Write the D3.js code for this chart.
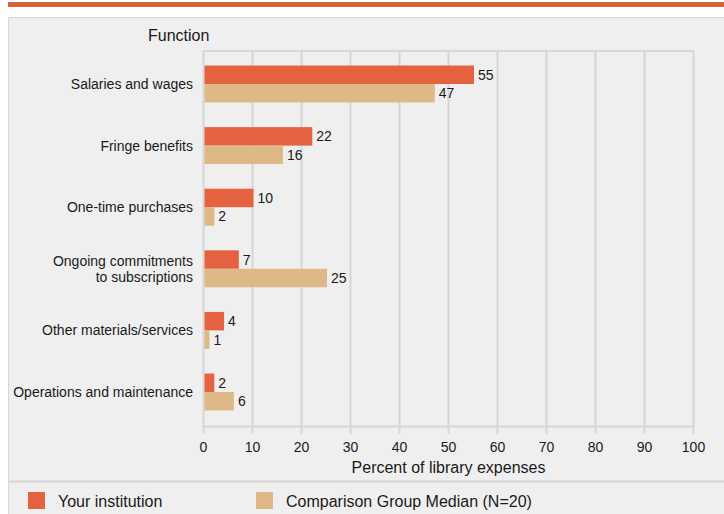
<!DOCTYPE html>
<meta charset="utf-8">
<title>Library expenses</title>
<script src="https://d3js.org/d3.v7.min.js"></script>
<style>
  body { margin: 0; background: #fff; }
  text { font-family: "Liberation Sans", Arial, sans-serif; fill: #1a1a1a; }
</style>
<body>
</body>
<script>
var categories = ["Salaries and wages", "Fringe benefits", "One-time purchases",
                  "Ongoing commitments|to subscriptions", "Other materials/services",
                  "Operations and maintenance"];
var yourInstitution = [55, 22, 10, 7, 4, 2];
var comparisonMedian = [47, 16, 2, 25, 1, 6];
var xTicks = [0, 10, 20, 30, 40, 50, 60, 70, 80, 90, 100];
var seriesNames = ["Your institution", "Comparison Group Median (N=20)"];
var seriesColors = ["#e4623f", "#dfb887"];

var width = 724, height = 514;
var svg = d3.select("body").append("svg")
            .attr("width", width)
            .attr("height", height);

// top stripe and panel
svg.append("rect").attr("x", 8).attr("y", 2).attr("width", width - 8).attr("height", 5)
   .attr("fill", "#d9603b");
svg.append("rect").attr("x", 8.5).attr("y", 17.5).attr("width", width).attr("height", height)
   .attr("fill", "#efefef").attr("stroke", "#d6d6d6");
svg.append("line").attr("x1", 8).attr("x2", width).attr("y1", 481.5).attr("y2", 481.5)
   .attr("stroke", "#d6d6d6").attr("stroke-width", 2);

var x = d3.scaleLinear().domain([0, 100]).range([203.5, 693.5]);
var y = d3.scaleBand().domain(d3.range(categories.length))
          .range([53.2, 422.8]).paddingInner(0.4).paddingOuter(0.2);

// grid frame
var grid = svg.append("g");
grid.selectAll("line.v").data(xTicks).enter().append("line")
    .attr("x1", function (d) { return x(d); })
    .attr("x2", function (d) { return x(d); })
    .attr("y1", 51).attr("y2", 434)
    .attr("stroke", "#d6d6d6").attr("stroke-width", 2);
grid.append("line").attr("x1", x(0)).attr("x2", x(100)).attr("y1", 51).attr("y2", 51)
    .attr("stroke", "#d6d6d6").attr("stroke-width", 2);
grid.append("line").attr("x1", x(0)).attr("x2", x(100)).attr("y1", 426.5).attr("y2", 426.5)
    .attr("stroke", "#d6d6d6").attr("stroke-width", 2);

// x axis labels
svg.selectAll("text.tick").data(xTicks).enter().append("text")
   .attr("x", function (d) { return x(d); })
   .attr("y", 452)
   .attr("text-anchor", "middle")
   .style("font-size", "14px")
   .text(function (d) { return d; });
svg.append("text").attr("x", x(50)).attr("y", 473).attr("text-anchor", "middle")
   .style("font-size", "16px").text("Percent of library expenses");

svg.append("text").attr("x", 148).attr("y", 41).style("font-size", "16px").text("Function");

// bars
var half = y.bandwidth() / 2;
var series = [yourInstitution, comparisonMedian];
series.forEach(function (vals, s) {
  var g = svg.append("g");
  g.selectAll("rect").data(vals).enter().append("rect")
   .attr("x", x(0) + 1)
   .attr("y", function (d, i) { return y(i) + s * half; })
   .attr("width", function (d) { return x(d) - x(0); })
   .attr("height", half)
   .attr("fill", seriesColors[s]);
  g.selectAll("text").data(vals).enter().append("text")
   .attr("x", function (d) { return x(d) + 5; })
   .attr("y", function (d, i) { return y(i) + s * half + half / 2 + 5; })
   .style("font-size", "14px")
   .text(function (d) { return d; });
});

// category labels
categories.forEach(function (c, i) {
  var lines = c.split("|");
  var t = svg.append("text").attr("text-anchor", "end").style("font-size", "14px");
  var cy = y(i) + half;
  lines.forEach(function (l, k) {
    t.append("tspan").attr("x", 193)
     .attr("y", cy + 5 + (k - (lines.length - 1) / 2) * 16)
     .text(l);
  });
});

// legend
var legX = [28, 256];
seriesNames.forEach(function (n, s) {
  svg.append("rect").attr("x", legX[s]).attr("y", 492).attr("width", 17).attr("height", 17)
     .attr("fill", seriesColors[s]);
  svg.append("text").attr("x", legX[s] + 30).attr("y", 507).style("font-size", "16px").text(n);
});
</script>
